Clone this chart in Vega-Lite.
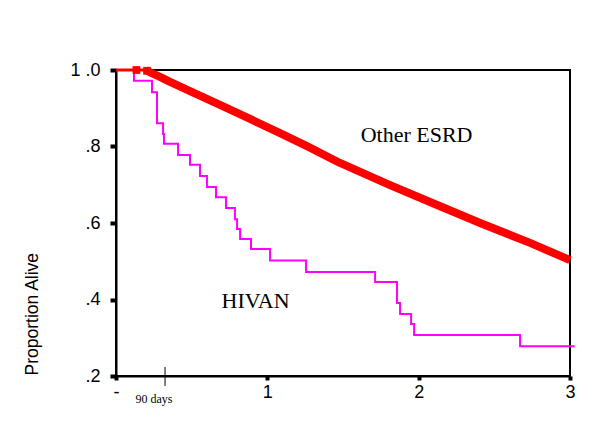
{
  "$schema": "https://vega.github.io/schema/vega-lite/v6.json",
  "width": 454,
  "height": 306,
  "autosize": "none",
  "padding": {"left": 116, "top": 70, "right": 30, "bottom": 68},
  "background": "white",
  "config": {
    "view": {"stroke": "black", "strokeWidth": 2},
    "axis": {
      "grid": false,
      "domainColor": "black",
      "domainWidth": 2,
      "tickColor": "black",
      "labelColor": "black",
      "labelFont": "Liberation Sans",
      "titleFont": "Liberation Sans",
      "titleColor": "black"
    }
  },
  "datasets": {
    "hivan": [
      {"years": 0, "survival": 1.0},
      {"years": 0.119, "survival": 0.972},
      {"years": 0.238, "survival": 0.942},
      {"years": 0.271, "survival": 0.861},
      {"years": 0.311, "survival": 0.833},
      {"years": 0.317, "survival": 0.807},
      {"years": 0.41, "survival": 0.778},
      {"years": 0.489, "survival": 0.752},
      {"years": 0.555, "survival": 0.723},
      {"years": 0.601, "survival": 0.694},
      {"years": 0.661, "survival": 0.667},
      {"years": 0.727, "survival": 0.639},
      {"years": 0.786, "survival": 0.61},
      {"years": 0.8, "survival": 0.584},
      {"years": 0.82, "survival": 0.558},
      {"years": 0.892, "survival": 0.532},
      {"years": 1.018, "survival": 0.502},
      {"years": 1.256, "survival": 0.472},
      {"years": 1.712, "survival": 0.446},
      {"years": 1.857, "survival": 0.391},
      {"years": 1.877, "survival": 0.362},
      {"years": 1.95, "survival": 0.336},
      {"years": 1.97, "survival": 0.307},
      {"years": 2.67, "survival": 0.278},
      {"years": 3.03, "survival": 0.278}
    ],
    "esrd": [
      {"years": 0, "survival": 1.0},
      {"years": 0.198, "survival": 1.0},
      {"years": 0.225, "survival": 0.994},
      {"years": 0.291, "survival": 0.982},
      {"years": 0.357, "survival": 0.969},
      {"years": 0.489, "survival": 0.945},
      {"years": 0.687, "survival": 0.909},
      {"years": 0.886, "survival": 0.872},
      {"years": 1.084, "survival": 0.835},
      {"years": 1.262, "survival": 0.801},
      {"years": 1.48, "survival": 0.757},
      {"years": 1.811, "survival": 0.699},
      {"years": 2.075, "survival": 0.655},
      {"years": 2.406, "survival": 0.6},
      {"years": 2.736, "survival": 0.548},
      {"years": 3.0, "survival": 0.503}
    ],
    "censor": [
      {"years": 0.135, "survival": 1.0},
      {"years": 0.205, "survival": 0.998}
    ],
    "curveLabels": [
      {"years": 1.986, "survival": 0.8125, "label": "Other ESRD"},
      {"years": 0.922, "survival": 0.378, "label": "HIVAN"}
    ],
    "marker": [
      {"years": 0.324, "survival": 0.2235, "survival2": 0.174, "label": "90 days", "labelYears": 0.251, "labelSurvival": 0.129}
    ]
  },
  "encoding": {
    "x": {
      "field": "years",
      "type": "quantitative",
      "scale": {"domain": [0, 3], "nice": false, "zero": false},
      "axis": {
        "title": null,
        "values": [0, 1, 2, 3],
        "labelExpr": "datum.value == 0 ? '-' : datum.label",
        "labelFontSize": 18,
        "labelFlush": false,
        "tickSize": 4,
        "tickWidth": 4,
        "labelPadding": 3
      }
    },
    "y": {
      "field": "survival",
      "type": "quantitative",
      "scale": {"domain": [0.2, 1.0], "nice": false, "zero": false},
      "axis": {
        "title": "Proportion Alive",
        "titleFontSize": 17.5,
        "titleFontWeight": "normal",
        "titleX": -84,
        "titleY": 305,
        "titleAngle": 270,
        "titleAlign": "left",
        "titleBaseline": "middle",
        "values": [0.2, 0.4, 0.6, 0.8, 1.0],
        "labelExpr": "datum.value >= 0.99 ? '1 .0' : replace(format(datum.value, '.1f'), '0.', '.')",
        "labelFontSize": 18,
        "tickSize": 6,
        "tickWidth": 4,
        "labelPadding": 10
      }
    }
  },
  "layer": [
    {
      "data": {"name": "hivan"},
      "mark": {"type": "line", "interpolate": "step-after", "color": "#FF00FF", "strokeWidth": 2}
    },
    {
      "data": {"name": "esrd"},
      "transform": [{"filter": "datum.years <= 0.2"}],
      "mark": {"type": "line", "color": "#FF0000", "strokeWidth": 3}
    },
    {
      "data": {"name": "esrd"},
      "transform": [{"filter": "datum.years >= 0.19"}],
      "mark": {"type": "line", "color": "#FF0000", "strokeWidth": 8, "strokeJoin": "round"}
    },
    {
      "data": {"name": "censor"},
      "mark": {"type": "point", "shape": "square", "filled": true, "color": "#FF0000", "size": 60, "opacity": 1}
    },
    {
      "data": {"name": "curveLabels"},
      "mark": {"type": "text", "font": "Liberation Serif", "fontSize": 22, "color": "black", "align": "center", "baseline": "alphabetic"},
      "encoding": {"text": {"field": "label"}}
    },
    {
      "data": {"name": "marker"},
      "mark": {"type": "rule", "color": "black", "strokeWidth": 1},
      "encoding": {"y2": {"field": "survival2"}}
    },
    {
      "data": {"name": "marker"},
      "mark": {"type": "text", "font": "Liberation Serif", "fontSize": 12, "color": "black", "align": "center", "baseline": "alphabetic"},
      "encoding": {
        "x": {"field": "labelYears", "type": "quantitative"},
        "y": {"field": "labelSurvival", "type": "quantitative"},
        "text": {"field": "label"}
      }
    }
  ]
}
